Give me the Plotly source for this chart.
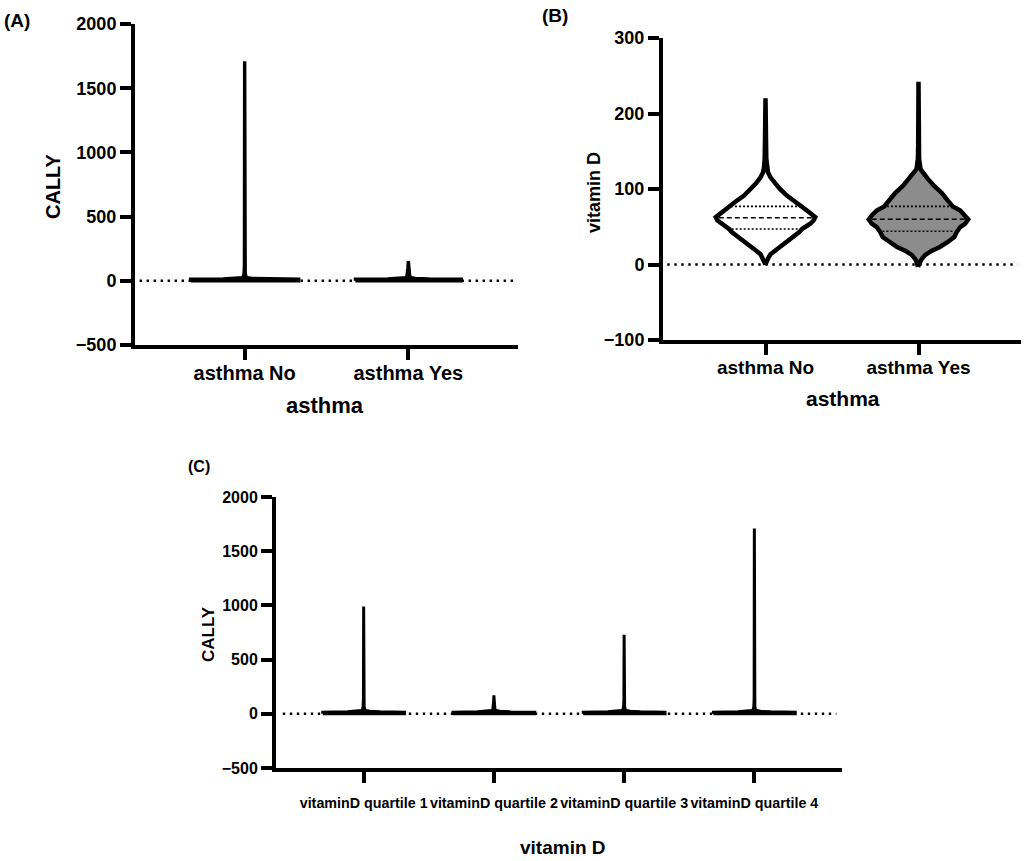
import numpy as np
import plotly.graph_objects as go

# ---------------- data ----------------
# Panel A: CALLY by asthma status (violin profiles: value levels + relative density)
A_CATEGORIES = ["asthma No", "asthma Yes"]
A_NO_LEVELS = [0, 12, 15, 19, 25, 35, 60, 120, 1710]
A_NO_DENSITY = [1.0, 1.0, 0.4, 0.14, 0.05, 0.02, 0.01, 0.004, 0.0]
A_YES_LEVELS = [0, 12, 15, 19, 25, 35, 60, 100, 153]
A_YES_DENSITY = [0.98, 0.98, 0.38, 0.13, 0.05, 0.025, 0.015, 0.008, 0.0]

# Panel B: vitamin D by asthma status
B_CATEGORIES = ["asthma No", "asthma Yes"]
B_NO_LEVELS = [0, 4, 7.9, 13.6, 18.9, 24.6, 29.8, 36.4, 43, 47.3, 54, 58.6, 62.7,
               69.3, 77, 82.5, 91.2, 100, 107.5, 115.4, 122, 128.5, 140, 166, 220]
B_NO_DENSITY = [0, 0.03, 0.05, 0.1, 0.2, 0.32, 0.43, 0.55, 0.68, 0.74, 0.9, 0.97, 1.0,
                0.88, 0.75, 0.62, 0.43, 0.29, 0.19, 0.1, 0.05, 0.03, 0.016, 0.01, 0]
B_NO_QUARTILES = [47, 62, 77]          # Q1, median, Q3
B_YES_LEVELS = [-3, 5.7, 12.3, 18, 23.2, 29.8, 36.4, 43, 49.6, 54, 59.6, 65, 71.5,
                77, 84.6, 94.7, 104.4, 114, 122, 126.3, 140, 150, 158, 242]
B_YES_DENSITY = [0.01, 0.05, 0.13, 0.26, 0.43, 0.59, 0.72, 0.77, 0.84, 0.94, 1.0, 0.94,
                 0.84, 0.69, 0.59, 0.47, 0.31, 0.18, 0.08, 0.04, 0.012, 0.02, 0.006, 0]
B_YES_QUARTILES = [44, 60, 77]

# Panel C: CALLY by vitamin D quartile
C_CATEGORIES = ["vitaminD quartile 1", "vitaminD quartile 2",
                "vitaminD quartile 3", "vitaminD quartile 4"]
C_Q1_LEVELS = [0, 14, 18, 23, 30, 42, 70, 140, 990]
C_Q2_LEVELS = [0, 14, 18, 23, 30, 42, 70, 120, 170]
C_Q3_LEVELS = [0, 14, 18, 23, 30, 42, 70, 140, 730]
C_Q4_LEVELS = [0, 14, 18, 23, 30, 42, 70, 140, 1710]
C_DENSITY = [1.0, 1.0, 0.4, 0.15, 0.06, 0.025, 0.012, 0.005, 0.0]

# ---------------- styling / layout ----------------
W, H = 1025, 861
FONT = "Liberation Sans, Arial, sans-serif"


def px_x(p):
    return p / W


def px_y(p):
    return 1 - p / H


def violin_trace(center, levels, density, half, fill, lw, xa, ya):
    lv = np.asarray(levels, float)
    d = np.asarray(density, float) * half
    xs = np.concatenate([center - d, (center + d)[::-1], [center - d[0]]])
    ys = np.concatenate([lv, lv[::-1], [lv[0]]])
    return go.Scatter(x=xs, y=ys, mode="lines", fill="toself", fillcolor=fill,
                      line=dict(color="black", width=lw), xaxis=xa, yaxis=ya,
                      hoverinfo="skip", showlegend=False)


def inner_line(center, levels, density, half, value, dash, xa, ya, inset):
    w = np.interp(value, levels, density) * half - inset
    return go.Scatter(x=[center - w, center + w], y=[value, value], mode="lines",
                      line=dict(color="black", width=1.6, dash=dash),
                      xaxis=xa, yaxis=ya, hoverinfo="skip", showlegend=False)


fig = go.Figure()

# Panel A
A_HALF = 0.33
for i, (lv, dn) in enumerate([(A_NO_LEVELS, A_NO_DENSITY), (A_YES_LEVELS, A_YES_DENSITY)]):
    fig.add_trace(violin_trace(i, lv, dn, A_HALF, "black", 3.4, "x", "y"))

# Panel B
B_HALF = 0.325
for i, (lv, dn, q, fc) in enumerate([(B_NO_LEVELS, B_NO_DENSITY, B_NO_QUARTILES, "white"),
                                     (B_YES_LEVELS, B_YES_DENSITY, B_YES_QUARTILES, "#8c8c8c")]):
    fig.add_trace(violin_trace(i, lv, dn, B_HALF, fc, 4.5, "x2", "y2"))
    fig.add_trace(inner_line(i, lv, dn, B_HALF, q[0], "2px,2px", "x2", "y2", 0.018))
    fig.add_trace(inner_line(i, lv, dn, B_HALF, q[1], "5px,3px", "x2", "y2", 0.018))
    fig.add_trace(inner_line(i, lv, dn, B_HALF, q[2], "2px,2px", "x2", "y2", 0.018))

# Panel C
C_HALF = 0.314
for i, lv in enumerate([C_Q1_LEVELS, C_Q2_LEVELS, C_Q3_LEVELS, C_Q4_LEVELS]):
    fig.add_trace(violin_trace(i, lv, C_DENSITY, C_HALF, "black", 3, "x3", "y3"))

axis_common = dict(showline=True, linewidth=4, linecolor="black", ticks="outside",
                   ticklen=11, tickwidth=4, tickcolor="black", showgrid=False,
                   zeroline=False, fixedrange=True, automargin=False)

fig.update_layout(
    width=W, height=H, margin=dict(l=0, r=0, t=0, b=0, autoexpand=False),
    paper_bgcolor="white", plot_bgcolor="rgba(0,0,0,0)", showlegend=False,
    xaxis=dict(domain=[px_x(135), px_x(518)], range=[-0.67, 1.67], anchor="y",
               tickvals=[0, 1], ticktext=A_CATEGORIES, ticklabelstandoff=-4, tickangle=0,
               tickfont=dict(family=FONT, size=20, weight="bold", color="black"), **axis_common),
    yaxis=dict(domain=[px_y(345), px_y(24)], range=[-500, 2000], anchor="x",
               tickvals=[-500, 0, 500, 1000, 1500, 2000],
               tickfont=dict(family=FONT, size=18, weight="bold", color="black"), **axis_common),
    xaxis2=dict(domain=[px_x(663), px_x(1021)], range=[-0.67, 1.67], anchor="y2",
                tickvals=[0, 1], ticktext=B_CATEGORIES, ticklabelstandoff=-4, tickangle=0,
                tickfont=dict(family=FONT, size=19, weight="bold", color="black"), **axis_common),
    yaxis2=dict(domain=[px_y(340), px_y(38)], range=[-100, 300], anchor="x2",
                tickvals=[-100, 0, 100, 200, 300],
                tickfont=dict(family=FONT, size=18, weight="bold", color="black"), **axis_common),
    xaxis3=dict(domain=[px_x(276), px_x(842)], range=[-0.673, 3.673], anchor="y3",
                tickvals=[0, 1, 2, 3], ticktext=C_CATEGORIES, ticklabelstandoff=8, tickangle=0,
                tickfont=dict(family=FONT, size=14.3, weight="bold", color="black"), **axis_common),
    yaxis3=dict(domain=[px_y(768), px_y(497)], range=[-500, 2000], anchor="x3",
                tickvals=[-500, 0, 500, 1000, 1500, 2000],
                tickfont=dict(family=FONT, size=16, weight="bold", color="black"), **axis_common),
)

# dotted zero reference lines
for xr, yr in [("x domain", "y"), ("x2 domain", "y2"), ("x3 domain", "y3")]:
    fig.add_shape(type="line", xref=xr, yref=yr, x0=0.012, x1=0.99, y0=0, y1=0,
                  line=dict(color="black", width=2.4, dash="2.4px,4.6px"), layer="below")


def label(text, x, y, size, angle=0):
    fig.add_annotation(text=text, x=px_x(x), y=px_y(y), xref="paper", yref="paper",
                       showarrow=False, textangle=angle, xanchor="center", yanchor="middle",
                       font=dict(family=FONT, size=size, weight="bold", color="black"))


label("(A)", 17, 20, 19)
label("CALLY", 53, 187, 20, -90)
label("asthma", 325, 405, 22)
label("(B)", 555, 16, 19)
label("vitamin D", 594, 193, 18, -90)
label("asthma", 843, 398, 21)
label("(C)", 199, 466, 16)
label("CALLY", 208, 634, 17, -90)
label("vitamin D", 563, 847, 19)

fig.write_html(
    "out.html", config={"displayModeBar": False},
    post_script=("document.documentElement.style.margin='0';"
                 "document.documentElement.style.overflow='hidden';"
                 "document.body.style.margin='0';document.body.style.padding='0';"
                 "document.body.style.overflow='hidden';"
                 "document.body.style.height='861px';"))
